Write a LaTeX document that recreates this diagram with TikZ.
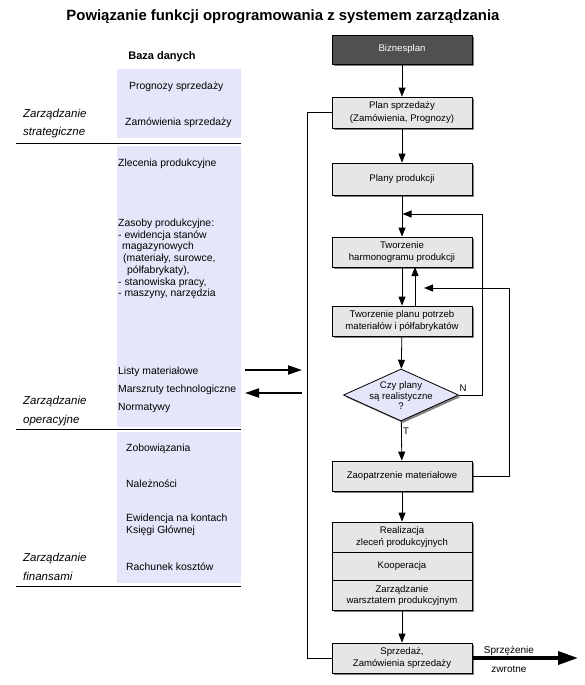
\documentclass[tikz,border=0pt]{standalone}
\usepackage{fontspec}
\setmainfont{Liberation Sans}
\usetikzlibrary{arrows.meta,shapes.geometric,shadows}
\definecolor{boxgray}{RGB}{230,230,230}
\definecolor{darkbox}{RGB}{80,80,80}
\definecolor{lav}{RGB}{230,230,250}
\definecolor{shad}{RGB}{128,128,128}
\newcommand\fbx{\fontsize{9.6}{11.5}\selectfont}
\newcommand\flt{\fontsize{10.4}{11.7}\selectfont}
\newcommand\fitl{\fontsize{11.5}{18.5}\selectfont\itshape}
\begin{document}
\begin{tikzpicture}[x=1pt,y=-1pt,
  fbox/.style={draw,line width=0.8pt,fill=boxgray,minimum width=140pt,minimum height=30pt,inner sep=1pt,align=center,font=\fbx,
    drop shadow={shadow xshift=2pt,shadow yshift=-2pt,fill=shad,opacity=1}},
  txtbox/.style={minimum width=140pt,inner sep=1pt,align=center,font=\fbx},
  arr/.style={line width=0.8pt,-{Triangle[width=7pt,length=9pt]}},
  ln/.style={line width=0.8pt},
  tarr/.style={line width=2pt,-{Triangle[width=9pt,length=14pt]}},
  sarr/.style={line width=3.5pt,-{Triangle[width=13pt,length=20pt]}},
  lt/.style={anchor=west,inner sep=0pt,font=\flt},
  zl/.style={anchor=west,inner sep=0pt,font=\fitl,align=left},
  lbl/.style={inner sep=0pt,font=\fbx}
]
\useasboundingbox (0,0) rectangle (585,685);

% title
\node[font=\fontsize{14.9}{16}\selectfont\bfseries] (title) at (283,17) {Powiązanie funkcji oprogramowania z systemem zarządzania};

% left column
\node[font=\fontsize{11}{13}\selectfont\bfseries,inner sep=0pt] (baza) at (162,57) {Baza danych};
\fill[lav] (117,69) rectangle (241,138);
\fill[lav] (117,146) rectangle (241,427);
\fill[lav] (117,432) rectangle (241,583);
\draw[ln] (16,143) -- (241,143);
\draw[ln] (16,429) -- (241,429);
\draw[ln] (16,586) -- (241,586);

\node[lt] (t1) at (129,87) {Prognozy sprzedaży};
\node[lt] (t2) at (125,123) {Zamówienia sprzedaży};
\node[lt] (t3) at (118,164) {Zlecenia produkcyjne};
\node[lt,align=left] (t4) at (118,259) {Zasoby produkcyjne:\\- ewidencja stanów\\\hspace*{4pt}magazynowych\\\hspace*{5pt}(materiały, surowce,\\\hspace*{9pt}półfabrykaty),\\- stanowiska pracy,\\- maszyny, narzędzia};
\node[lt] (t5) at (118,372) {Listy materiałowe};
\node[lt] (t6) at (118,390) {Marszruty technologiczne};
\node[lt] (t7) at (118,407.5) {Normatywy};
\node[lt] (t8) at (126,448.5) {Zobowiązania};
\node[lt] (t9) at (126,484) {Należności};
\node[lt,align=left] (t10) at (126,525) {Ewidencja na kontach\\Księgi Głównej};
\node[lt] (t11) at (126,567) {Rachunek kosztów};

\node[zl] (z1) at (23,123.5) {Zarządzanie\\strategiczne};
\node[zl] (z2) at (23,411) {Zarządzanie\\operacyjne};
\node[zl] (z3) at (23,567) {Zarządzanie\\finansami};

% middle arrows
\coordinate (la1) at (245,370);
\coordinate (ra1) at (302,370);
\coordinate (la2) at (245,393);
\coordinate (ra2) at (302,393);
\draw[tarr] (la1) -- (ra1);
\draw[tarr] (ra2) -- (la2);

% flowchart
\node[fbox,fill=darkbox,text=white,minimum height=29pt] (biz) at (402,49.5) {Biznesplan};
\node[fbox,minimum height=31pt,font=\fontsize{9.6}{13}\selectfont] (plan) at (402,112.5) {Plan sprzedaży\\(Zamówienia, Prognozy)};
\node[fbox,minimum height=32pt] (plany) at (402,179) {Plany produkcji};
\node[fbox] (harm) at (402,252) {Tworzenie\\harmonogramu produkcji};
\node[fbox] (potrz) at (402,321) {Tworzenie planu potrzeb\\materiałów i półfabrykatów};
\node[draw,ln,fill=lav,shape=diamond,minimum width=115pt,minimum height=52pt,inner sep=0pt,
  drop shadow={shadow xshift=2pt,shadow yshift=-2pt,fill=shad,opacity=1}] (dia) at (401,395) {};
\node[lbl,align=center,font=\fontsize{9.6}{10.5}\selectfont] (diat) at (401,396) {Czy plany\\są realistyczne\\?};
\node[fbox] (zaop) at (402,476) {Zaopatrzenie materiałowe};
\node[fbox,minimum height=88pt] (comb) at (402,566) {};
\node[txtbox,minimum height=29.5pt] (real) at (402,537) {Realizacja\\zleceń produkcyjnych};
\node[txtbox,minimum height=29pt] (koop) at (402,566.5) {Kooperacja};
\node[txtbox,minimum height=29.5pt] (zarz) at (402,595.5) {Zarządzanie\\warsztatem produkcyjnym};
\draw[ln] (real.south west) -- (real.south east);
\draw[ln] (zarz.north west) -- (zarz.north east);
\node[fbox] (sprz) at (402,658) {Sprzedaż,\\Zamówienia sprzedaży};

\draw[arr] (biz) -- (plan);
\draw[arr] (plan) -- (plany);
\draw[arr] (plany) -- (harm);
\draw[arr] (harm) -- (potrz);
\coordinate (upb) at (415,306);
\coordinate (upt) at (415,267);
\draw[arr] (upb) -- (upt);
\draw[arr] (potrz) -- (dia);
\draw[arr] (dia) -- (zaop);
\draw[arr] (zaop) -- (comb);
\draw[arr] (comb) -- (sprz);

\coordinate (nA) at (482.5,395);
\coordinate (nB) at (482.5,214);
\coordinate (nC) at (402.5,214);
\draw[arr] (dia.east) -- (nA) -- (nB) -- (nC);
\node[lbl] (nlab) at (463,388) {N};
\node[lbl] (tlab) at (406,431) {T};

\coordinate (zA) at (509.5,476);
\coordinate (zB) at (509.5,288);
\coordinate (zC) at (424,288);
\draw[arr] (zaop.east) -- (zA) -- (zB) -- (zC);

\coordinate (fA) at (307.5,112.5);
\coordinate (fB) at (307.5,658);
\draw[ln] (plan.west) -- (fA) -- (fB) -- (sprz.west);

\coordinate (fe) at (578,658);
\draw[sarr] (sprz.east) -- (fe);
\node[lbl,font=\fontsize{10}{12}\selectfont] (sz1) at (509,651) {Sprzężenie};
\node[lbl,font=\fontsize{10}{12}\selectfont] (sz2) at (509,669) {zwrotne};
\end{tikzpicture}
\end{document}
